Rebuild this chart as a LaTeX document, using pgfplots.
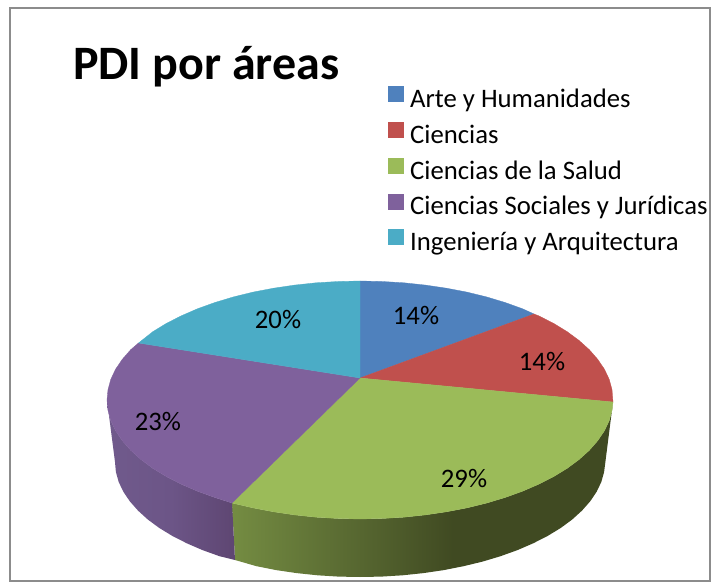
\documentclass[border=0pt]{standalone}
\usepackage{pgfplots}
\pgfplotsset{compat=1.18}
\usepackage{fontspec}
\setmainfont{Carlito}
\definecolor{cblue}{HTML}{4F81BD}
\definecolor{cred}{HTML}{C0504D}
\definecolor{cgreen}{HTML}{9BBB59}
\definecolor{cpurple}{HTML}{7F619C}
\definecolor{cteal}{HTML}{4BACC6}
\definecolor{cg1}{HTML}{748C42}
\definecolor{cg2}{HTML}{566630}
\definecolor{cg3}{HTML}{404A22}
\definecolor{cp1}{HTML}{705A8C}
\definecolor{cp2}{HTML}{6C5587}
\definecolor{cp3}{HTML}{5E4672}
\pgfdeclarehorizontalshading{greenwall}{100bp}{
 color(0bp)=(cg1); color(25bp)=(cg1); color(42bp)=(cg2); color(54bp)=(cg3); color(100bp)=(cg3)}
\pgfdeclarehorizontalshading{purplewall}{100bp}{
 color(0bp)=(cp1); color(25bp)=(cp1); color(50bp)=(cp2); color(75bp)=(cp3); color(100bp)=(cp3)}
\begin{document}
\begin{tikzpicture}
\begin{axis}[
  scale only axis, width=715pt, height=585pt,
  xmin=0, xmax=715, ymin=0, ymax=585, y dir=reverse,
  hide axis, clip=false,
  legend style={at={(axis cs:388,86.5)}, anchor=north west, draw=none, fill=none,
    font=\fontsize{26.7}{26.7}\selectfont, inner sep=0pt, outer sep=0pt,
    row sep=8.5pt,
    nodes={inner sep=0pt, text height=17pt, text depth=6pt}},
  legend cell align=left,
  legend image code/.code={\fill[#1] (0pt,0.5pt) rectangle (15pt,15.5pt);\path[draw=none,fill=none] (0pt,0pt) -- (22pt,0pt);},
]
% page
\addplot[fill=white, draw=none, forget plot] coordinates {(0,0) (715,0) (715,585) (0,585)} -- cycle;
% frame
\addplot[draw=black!45, line width=1.3pt, forget plot] coordinates {(10,8) (710,8) (710,581) (10,581)} -- cycle;
% side walls
\addplot[shading=greenwall, draw=none, forget plot] coordinates {
 (613,402) (612,410.4) (609.2,420.7) (604.4,430.8) (597.7,440.7) (589.3,450.3) (579.1,459.5) (567.2,468.3) (553.8,476.5) (538.9,484.1) (522.6,491.2) (505.1,497.5) (486.5,503.1) (466.9,507.9) (446.5,511.8) (425.5,514.9) (403.9,517.2) (382.1,518.5) (360,519) (337.9,518.5) (316.1,517.2) (294.5,514.9) (273.5,511.8) (253.1,507.9) (232,503)
 (235,560) (256.5,566.2) (276.2,570.1) (296.6,573.1) (317.5,575.3) (338.6,576.6) (360,577) (381.4,576.6) (402.5,575.3) (423.4,573.1) (443.8,570.1) (463.5,566.2) (482.5,561.6) (500.5,556.2) (517.5,550.1) (533.2,543.3) (547.7,535.9) (560.7,528) (572.2,519.5) (582,510.6) (590.2,501.3) (596.6,491.8) (601.3,482) (604.1,472) (605,465)} -- cycle;
\addplot[shading=purplewall, draw=none, forget plot] coordinates {
 (107,400) (108,410.4) (110.8,420.7) (115.6,430.8) (122.3,440.7) (130.7,450.3) (140.9,459.5) (152.8,468.3) (166.2,476.5) (181.1,484.1) (197.4,491.2) (214.9,497.5) (232,503)
 (235,560) (219.5,556.2) (202.5,550.1) (186.8,543.3) (172.3,535.9) (159.3,528) (147.8,519.5) (138,510.6) (129.8,501.3) (123.4,491.8) (118.7,482) (115.9,472) (115,462)} -- cycle;
% top face
\addplot[fill=cblue, draw=cblue, line width=0.3pt, forget plot] coordinates {
 (360,378) (360,281) (382.1,281.5) (403.9,282.8) (425.5,285.1) (446.5,288.2) (466.9,292.1) (486.5,296.9) (505.1,302.5) (522.6,308.8) (534,314)} -- cycle;
\addplot[fill=cred, draw=cred, line width=0.3pt, forget plot] coordinates {
 (360,378) (534,314) (538.9,315.9) (553.8,323.5) (567.2,331.7) (579.1,340.5) (589.3,349.7) (597.7,359.3) (604.4,369.2) (609.2,379.3) (612,389.6) (613,402)} -- cycle;
\addplot[fill=cgreen, draw=cgreen, line width=0.3pt, forget plot] coordinates {
 (360,378) (613,402) (612,410.4) (609.2,420.7) (604.4,430.8) (597.7,440.7) (589.3,450.3) (579.1,459.5) (567.2,468.3) (553.8,476.5) (538.9,484.1) (522.6,491.2) (505.1,497.5) (486.5,503.1) (466.9,507.9) (446.5,511.8) (425.5,514.9) (403.9,517.2) (382.1,518.5) (360,519) (337.9,518.5) (316.1,517.2) (294.5,514.9) (273.5,511.8) (253.1,507.9) (232,503)} -- cycle;
\addplot[fill=cpurple, draw=cpurple, line width=0.3pt, forget plot] coordinates {
 (360,378) (232,503) (214.9,497.5) (197.4,491.2) (181.1,484.1) (166.2,476.5) (152.8,468.3) (140.9,459.5) (130.7,450.3) (122.3,440.7) (115.6,430.8) (110.8,420.7) (108,410.4) (107,400) (108,389.6) (110.8,379.3) (115.6,369.2) (122.3,359.3) (130.7,349.7) (138.5,343)} -- cycle;
\addplot[fill=cteal, draw=cteal, line width=0.3pt, forget plot] coordinates {
 (360,378) (138.5,343) (152.8,331.7) (166.2,323.5) (181.1,315.9) (197.4,308.8) (214.9,302.5) (233.5,296.9) (253.1,292.1) (273.5,288.2) (294.5,285.1) (316.1,282.8) (337.9,281.5) (360,281)} -- cycle;
% labels
\node[font=\fontsize{26.7}{26.7}\selectfont] at (axis cs:416,316) {14\%};
\node[font=\fontsize{26.7}{26.7}\selectfont] at (axis cs:542,362) {14\%};
\node[font=\fontsize{26.7}{26.7}\selectfont] at (axis cs:464,479) {29\%};
\node[font=\fontsize{26.7}{26.7}\selectfont] at (axis cs:158,422) {23\%};
\node[font=\fontsize{26.7}{26.7}\selectfont] at (axis cs:278,320) {20\%};
\node[anchor=base west, inner sep=0pt, font=\fontsize{48}{48}\selectfont\bfseries] at (axis cs:73,80) {PDI por áreas};
% legend
\addlegendimage{cblue}\addlegendentry{Arte y Humanidades}
\addlegendimage{cred}\addlegendentry{Ciencias}
\addlegendimage{cgreen}\addlegendentry{Ciencias de la Salud}
\addlegendimage{cpurple}\addlegendentry{Ciencias Sociales y Jurídicas}
\addlegendimage{cteal}\addlegendentry{Ingeniería y Arquitectura}
\end{axis}
\end{tikzpicture}
\end{document}
